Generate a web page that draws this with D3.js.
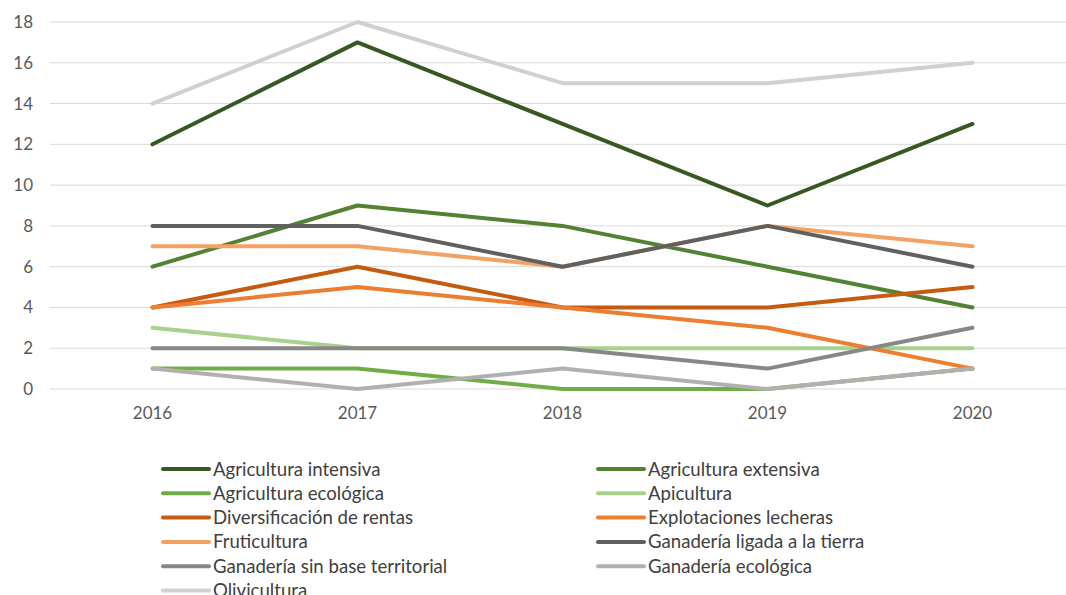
<!DOCTYPE html>
<html><head><meta charset="utf-8">
<script src="https://cdn.jsdelivr.net/npm/d3@7"></script>
<style>body{margin:0;background:#fff;} svg{display:block;}</style>
</head><body>
<svg id="c" width="1066" height="595"></svg>
<script>
const years = ["2016","2017","2018","2019","2020"];
const yTicks = [0,2,4,6,8,10,12,14,16,18];
const seriesNames = ["Agricultura intensiva","Agricultura extensiva","Agricultura ecológica","Apicultura","Diversificación de rentas","Explotaciones lecheras","Fruticultura","Ganadería ligada a la tierra","Ganadería sin base territorial","Ganadería ecológica","Olivicultura"];
const agriculturaIntensiva = [12,17,13,9,13];
const agriculturaExtensiva = [6,9,8,6,4];
const agriculturaEcologica = [1,1,0,0,1];
const apicultura = [3,2,2,2,2];
const diversificacion = [4,6,4,4,5];
const explotacionesLecheras = [4,5,4,3,1];
const fruticultura = [7,7,6,8,7];
const ganaderiaLigada = [8,8,6,8,6];
const ganaderiaSinBase = [2,2,2,1,3];
const ganaderiaEcologica = [1,0,1,0,1];
const olivicultura = [14,18,15,15,16];
const seriesValues = [agriculturaIntensiva,agriculturaExtensiva,agriculturaEcologica,apicultura,diversificacion,explotacionesLecheras,fruticultura,ganaderiaLigada,ganaderiaSinBase,ganaderiaEcologica,olivicultura];
const colors = ["#385723","#548235","#70AD47","#A9D18E","#C55A11","#ED7D31","#F4A263","#606060","#878787","#B0B0B0","#D0D0D0"];

const svg = d3.select("#c");
const font = "Lato, 'Liberation Sans', Arial, sans-serif";
const x = d3.scaleBand().domain(years).range([50,1075]);
const y = d3.scaleLinear().domain([0,18]).range([389,22]);

// gridlines
svg.append("g").selectAll("line").data(yTicks).join("line")
  .attr("x1",50).attr("x2",1066)
  .attr("y1",d=>y(d)).attr("y2",d=>y(d))
  .attr("stroke","#d9d9d9").attr("stroke-width",1);

// y labels
svg.append("g").selectAll("text").data(yTicks).join("text")
  .attr("x",33).attr("y",d=>y(d)).attr("dy","0.35em")
  .attr("text-anchor","end").attr("font-family",font).attr("font-size",17)
  .attr("fill","#595959").text(d=>d);

// x labels
svg.append("g").selectAll("text").data(years).join("text")
  .attr("x",d=>x(d)+x.bandwidth()/2).attr("y",419)
  .attr("text-anchor","middle").attr("font-family",font).attr("font-size",17)
  .attr("fill","#595959").text(d=>d);

const line = d3.line().x((d,i)=>x(years[i])+x.bandwidth()/2).y(d=>y(d));
svg.append("g").selectAll("path").data(seriesValues).join("path")
  .attr("d",d=>line(d)).attr("fill","none")
  .attr("stroke",(d,i)=>colors[i]).attr("stroke-width",4)
  .attr("stroke-linejoin","round").attr("stroke-linecap","round");

// legend
const leg = svg.append("g").selectAll("g").data(seriesNames).join("g")
  .attr("transform",(d,i)=>`translate(${i%2===0?163:598},${469+Math.floor(i/2)*24.3})`);
leg.append("line").attr("x1",0).attr("x2",46).attr("y1",0).attr("y2",0)
  .attr("stroke",(d,i)=>colors[i]).attr("stroke-width",4).attr("stroke-linecap","round");
leg.append("text").attr("x",50).attr("y",0).attr("dy","0.35em")
  .attr("font-family",font).attr("font-size",18.6).attr("fill","#404040").text(d=>d);
</script>
</body></html>
